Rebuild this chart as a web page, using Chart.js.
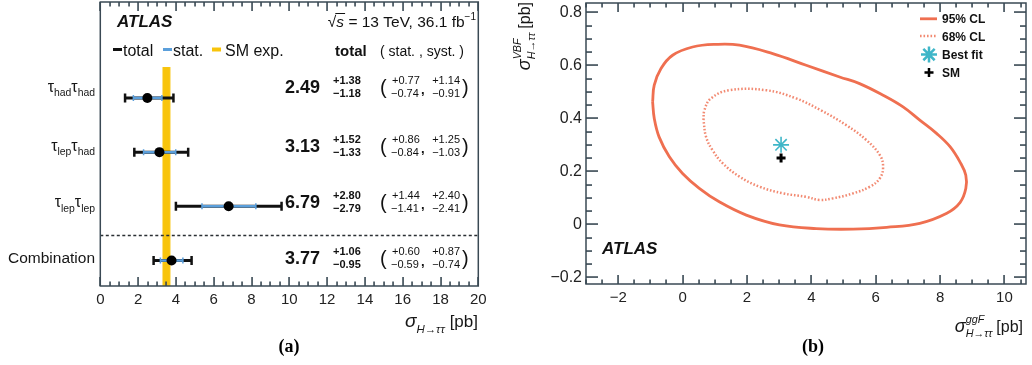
<!DOCTYPE html>
<html><head><meta charset="utf-8">
<script src="https://cdn.jsdelivr.net/npm/chart.js@4.4.1/dist/chart.umd.min.js"></script>
<style>
html,body{margin:0;padding:0;background:#fff;}
body{width:1032px;height:365px;position:relative;overflow:hidden}
.w{position:absolute;top:0;height:365px}
#wa{left:0;width:500px}
#wb{left:500px;width:532px}
</style></head><body>
<div class="w" id="wa"><canvas id="ca"></canvas></div>
<div class="w" id="wb"><canvas id="cb"></canvas></div>
<script>
// ---------- panel (a) data ----------
const channels = ['τ_{had}τ_{had}', 'τ_{lep}τ_{had}', 'τ_{lep}τ_{lep}', 'Combination'];
const xsec   = [2.49, 3.13, 6.79, 3.77];
const totUp  = [1.38, 1.52, 2.80, 1.06];
const totDn  = [1.18, 1.33, 2.79, 0.95];
const statUp = [0.77, 0.86, 1.44, 0.60];
const statDn = [0.74, 0.84, 1.41, 0.59];
const systUp = [1.14, 1.25, 2.40, 0.87];
const systDn = [0.91, 1.03, 2.41, 0.74];
const smXsec = 3.50;
const smErr  = 0.18;
const xTicksA = [0, 2, 4, 6, 8, 10, 12, 14, 16, 18, 20];

// ---------- panel (b) data ----------
const cl95X = [-0.93, -0.88, -0.67, -0.31, 0.31, 1.04, 1.77, 2.80, 3.84, 4.88, 5.50, 6.23, 6.85, 7.37, 7.89, 8.31, 8.62, 8.80, 8.80, 8.62, 8.21, 7.37, 6.34, 5.30, 4.15, 3.01, 1.98, 1.14, 0.52, 0.00, -0.41, -0.73, -0.88];
const cl95Y = [0.462, 0.525, 0.588, 0.638, 0.669, 0.679, 0.676, 0.644, 0.600, 0.556, 0.531, 0.487, 0.443, 0.393, 0.343, 0.293, 0.235, 0.185, 0.135, 0.082, 0.042, 0.004, -0.011, -0.018, -0.016, -0.002, 0.035, 0.085, 0.136, 0.192, 0.255, 0.330, 0.400];
const cl68X = [0.65, 0.68, 0.88, 1.45, 2.60, 3.53, 4.30, 5.09, 5.71, 6.13, 6.23, 6.13, 5.82, 5.30, 4.67, 4.26, 3.84, 3.12, 2.39, 1.77, 1.25, 0.93, 0.73];
const cl68Y = [0.393, 0.431, 0.475, 0.506, 0.506, 0.475, 0.430, 0.374, 0.318, 0.261, 0.217, 0.174, 0.142, 0.117, 0.098, 0.092, 0.104, 0.117, 0.142, 0.180, 0.230, 0.280, 0.330];
const bestFit = [3.06, 0.30];
const smPoint = [3.06, 0.25];
const legendB = ['95% CL', '68% CL', 'Best fit', 'SM'];
const xTicksB = [-2, 0, 2, 4, 6, 8, 10];
const yTicksB = [-0.2, 0, 0.2, 0.4, 0.6, 0.8];

// ---------- helpers ----------
const FAM = '"Liberation Sans", Arial, sans-serif';
const FRAME_COL = '#3a4954';
const C95 = '#ef6f50', C68 = '#f28a72', CFIT = '#3fb6c8', CSTAT = '#5b9fdb', CSM = '#f8c40c';
const fmt = v => (v < 0 ? '\u2212' : '') + String(Math.abs(v));

function richParse(s) {
  const out = []; let i = 0, buf = '';
  while (i < s.length) {
    const c = s[i];
    if ((c === '_' || c === '^') && s[i + 1] === '{') {
      if (buf) { out.push({ t: buf, k: 'n' }); buf = ''; }
      const j = s.indexOf('}', i);
      out.push({ t: s.slice(i + 2, j), k: c === '_' ? 'sub' : 'sup' });
      i = j + 1;
    } else { buf += c; i++; }
  }
  if (buf) out.push({ t: buf, k: 'n' });
  return out;
}
function drawRich(ctx, s, x, y, o) {
  const segs = richParse(s);
  const scl = o.scriptScale || 0.65;
  const fontFor = k => `${o.style || 'normal'} ${o.weight || 'normal'} ${k === 'n' ? o.size : o.size * scl}px ${FAM}`;
  let w = 0; const items = []; let prev = null;
  segs.forEach(sg => {
    ctx.font = fontFor(sg.k);
    const mw = ctx.measureText(sg.t).width;
    let dy = 0;
    if (sg.k === 'sub') dy = o.size * (o.subDy || 0.3);
    if (sg.k === 'sup') dy = -o.size * (o.supDy || 0.42);
    if (sg.k !== 'n' && prev && prev.k !== sg.k) {
      items.push({ ...sg, x: prev.x, dy });
      w += Math.max(0, mw - prev.w); prev = null;
    } else {
      const it = { ...sg, x: w, dy, w: mw };
      items.push(it);
      prev = sg.k !== 'n' ? it : null;
      w += mw;
    }
  });
  const x0 = o.align === 'right' ? x - w : o.align === 'center' ? x - w / 2 : x;
  ctx.fillStyle = o.color || '#161616'; ctx.textBaseline = 'alphabetic'; ctx.textAlign = 'left';
  items.forEach(it => { ctx.font = fontFor(it.k); ctx.fillText(it.t, x0 + it.x, y + it.dy); });
  return w;
}
// list of [value, isMajor] for tick marks: majors plus evenly spaced minors between/around them
function tickList(majors, nSub, lo, hi) {
  const step = (majors[1] - majors[0]) / nSub;
  const out = [];
  const first = majors[0] - Math.floor((majors[0] - lo) / step + 1e-6) * step;
  for (let k = 0; ; k++) {
    const v = first + k * step;
    if (v > hi + 1e-6) break;
    const isMaj = majors.some(m => Math.abs(m - v) < 1e-6);
    out.push([v, isMaj]);
  }
  return out;
}
function drawFrameTicks(ctx, a, sx, sy, xMajors, xSub, yMajors, ySub, lx, ly) {
  ctx.save();
  ctx.globalAlpha = 1; ctx.globalCompositeOperation = 'source-over'; ctx.setLineDash([]);
  ctx.strokeStyle = FRAME_COL; ctx.lineWidth = 1.5;
  ctx.strokeRect(a.left, a.top, a.right - a.left, a.bottom - a.top);
  ctx.fillStyle = FRAME_COL;
  const xmin = sx.options.min, xmax = sx.options.max;
  tickList(xMajors, xSub, xmin, xmax).forEach(([v, maj]) => {
    const px = Math.round(sx.getPixelForValue(v));
    if (!isFinite(px)) return;
    const L = maj ? lx[0] : lx[1];
    ctx.fillRect(px - 0.75, a.bottom - L, 1.6, L);
    ctx.fillRect(px - 0.75, a.top, 1.6, L);
  });
  if (yMajors) {
    const ymin = sy.options.min, ymax = sy.options.max;
    tickList(yMajors, ySub, ymin, ymax).forEach(([v, maj]) => {
      const py = Math.round(sy.getPixelForValue(v));
      if (!isFinite(py)) return;
      const L = maj ? ly[0] : ly[1];
      ctx.fillRect(a.left, py - 0.75, L, 1.6);
      ctx.fillRect(a.right - L, py - 0.75, L, 1.6);
    });
  }
  ctx.restore();
}
function zeroPad(s) { s.paddingTop = 0; s.paddingBottom = 0; s.paddingLeft = 0; s.paddingRight = 0; }

Chart.defaults.font.family = FAM;

// ---------- panel (a) ----------
const rowPos = [4, 3, 2, 1];
const panelA = {
  id: 'panelA',
  beforeDatasetsDraw(chart) {
    const { ctx, chartArea: a, scales: { x, y } } = chart;
    ctx.save();
    const bx0 = x.getPixelForValue(smXsec - smErr), bx1 = x.getPixelForValue(smXsec + smErr);
    const bTop = y.getPixelForValue(4.57);
    ctx.fillStyle = '#fbd75a';
    ctx.fillRect(bx0 - 0.8, bTop, bx1 - bx0 + 1.6, a.bottom - bTop);
    ctx.fillStyle = CSM;
    ctx.fillRect(bx0, bTop, bx1 - bx0, a.bottom - bTop);
    const sy = Math.round(y.getPixelForValue(1.47)) + 0.5;
    ctx.strokeStyle = '#2a2f33'; ctx.lineWidth = 1.5; ctx.setLineDash([3, 2.5]);
    ctx.beginPath(); ctx.moveTo(a.left, sy); ctx.lineTo(a.right, sy); ctx.stroke();
    ctx.setLineDash([]);
    xsec.forEach((v, i) => {
      const py = y.getPixelForValue(rowPos[i]);
      const tl = x.getPixelForValue(v - totDn[i]), tr = x.getPixelForValue(v + totUp[i]);
      const sl = x.getPixelForValue(v - statDn[i]), sr = x.getPixelForValue(v + statUp[i]);
      ctx.strokeStyle = '#111'; ctx.lineWidth = 3;
      ctx.beginPath(); ctx.moveTo(tl, py); ctx.lineTo(tr, py); ctx.stroke();
      ctx.lineWidth = 2.5;
      ctx.beginPath(); ctx.moveTo(tl, py - 4.5); ctx.lineTo(tl, py + 4.5);
      ctx.moveTo(tr, py - 4.5); ctx.lineTo(tr, py + 4.5); ctx.stroke();
      ctx.strokeStyle = CSTAT; ctx.lineWidth = 2.5;
      ctx.beginPath(); ctx.moveTo(sl, py); ctx.lineTo(sr, py); ctx.stroke();
      ctx.lineWidth = 1.5;
      ctx.beginPath(); ctx.moveTo(sl, py - 3); ctx.lineTo(sl, py + 3);
      ctx.moveTo(sr, py - 3); ctx.lineTo(sr, py + 3); ctx.stroke();
    });
    ctx.restore();
  },
  afterDraw(chart) {
    const { ctx, chartArea: a, scales: { x, y } } = chart;
    drawFrameTicks(ctx, a, x, y, xTicksA, 4, null, 0, [9, 4.5], null);
    ctx.save();
    ctx.fillStyle = '#111'; ctx.textBaseline = 'alphabetic'; ctx.textAlign = 'left';
    ctx.font = `italic bold 17px ${FAM}`; ctx.fillText('ATLAS', 117, 26.5);
    ctx.font = `15.5px ${FAM}`; const wR = ctx.measureText('\u221A').width;
    ctx.font = `italic 15.5px ${FAM}`; const wS = ctx.measureText('s').width;
    ctx.font = `15.5px ${FAM}`; const wM = ctx.measureText(' = 13 TeV, 36.1 fb').width;
    ctx.font = `10px ${FAM}`; const wE = ctx.measureText('\u22121').width;
    let xx = 476 - (wR + wS + wM + wE);
    ctx.font = `15.5px ${FAM}`; ctx.fillText('\u221A', xx, 26.5); xx += wR;
    ctx.font = `italic 15.5px ${FAM}`; ctx.fillText('s', xx, 26.5);
    ctx.strokeStyle = '#111'; ctx.lineWidth = 1;
    ctx.beginPath(); ctx.moveTo(xx - 1, 13.5); ctx.lineTo(xx + wS + 1, 13.5); ctx.stroke();
    xx += wS;
    ctx.font = `15.5px ${FAM}`; ctx.fillText(' = 13 TeV, 36.1 fb', xx, 26.5); xx += wM;
    ctx.font = `10px ${FAM}`; ctx.fillText('\u22121', xx, 19.5);
    const ly = 49.5;
    [[113, '#111', 3, 'total', 123], [163, CSTAT, 3, 'stat.', 173], [212, CSM, 4, 'SM exp.', 225]].forEach(([lx, col, lw, txt, tx]) => {
      ctx.strokeStyle = col; ctx.lineWidth = lw;
      ctx.beginPath(); ctx.moveTo(lx, ly); ctx.lineTo(lx + 9, ly); ctx.stroke();
      ctx.fillStyle = '#111'; ctx.font = `16px ${FAM}`; ctx.fillText(txt, tx, 55.5);
    });
    ctx.font = `bold 15px ${FAM}`; ctx.fillText('total', 335, 55.5);
    ctx.font = `14px ${FAM}`; ctx.fillText('( stat. , syst. )', 380, 55.5);
    const tRows = [4.22, 3.13, 2.09, 1.05];
    channels.forEach((lab, i) => {
      const cy = y.getPixelForValue(tRows[i]);
      drawRich(ctx, lab, 95, cy + 5.5, { size: i === 3 ? 15.5 : 16, align: 'right', color: '#161616' });
      ctx.fillStyle = '#111'; ctx.textAlign = 'right';
      ctx.font = `bold 18px ${FAM}`; ctx.fillText(xsec[i].toFixed(2), 320, cy + 6.5);
      ctx.textAlign = 'left'; ctx.font = `bold 11px ${FAM}`;
      ctx.fillText('+' + totUp[i].toFixed(2), 333, cy - 2.5);
      ctx.fillText('\u2212' + totDn[i].toFixed(2), 333, cy + 10.5);
      ctx.font = `20px ${FAM}`;
      ctx.fillText('(', 380, cy + 7.5); ctx.fillText(')', 462, cy + 7.5);
      ctx.font = `11px ${FAM}`;
      ctx.fillText('+' + statUp[i].toFixed(2), 392, cy - 2.5);
      ctx.fillText('\u2212' + statDn[i].toFixed(2), 391, cy + 10.5);
      ctx.font = `bold 13px ${FAM}`; ctx.fillText(',', 421, cy + 8);
      ctx.textAlign = 'right'; ctx.font = `11px ${FAM}`;
      ctx.fillText('+' + systUp[i].toFixed(2), 460, cy - 2.5);
      ctx.fillText('\u2212' + systDn[i].toFixed(2), 460, cy + 10.5);
    });
    ctx.textAlign = 'right'; ctx.fillStyle = '#161616';
    ctx.font = `17px ${FAM}`; const wpb = ctx.measureText('[pb]').width;
    ctx.fillText('[pb]', 478, 327);
    drawRich(ctx, 'σ_{H→ττ}', 478 - wpb - 5, 327, { size: 19, style: 'italic', align: 'right', scriptScale: 0.6 });
    ctx.textAlign = 'center'; ctx.fillStyle = '#000';
    ctx.font = `bold 18px "Liberation Serif", "Times New Roman", serif`;
    ctx.fillText('(a)', 289, 352);
    ctx.restore();
  }
};

new Chart(document.getElementById('ca'), {
  type: 'scatter',
  data: { datasets: [{ data: xsec.map((v, i) => ({ x: v, y: rowPos[i] })), pointRadius: 5, pointHoverRadius: 5, backgroundColor: '#000', borderColor: '#000', borderWidth: 0 }] },
  options: {
    responsive: true, maintainAspectRatio: false, animation: false,
    layout: { autoPadding: false, padding: { left: 100.3, right: 21.7, top: 2, bottom: 0 } },
    plugins: { legend: { display: false }, tooltip: { enabled: false } },
    scales: {
      x: {
        type: 'linear', min: 0, max: 20,
        afterBuildTicks: s => { s.ticks = xTicksA.map(v => ({ value: v })); },
        afterFit: s => { s.height = 79; zeroPad(s); },
        grid: { display: false, drawTicks: false }, border: { display: false },
        ticks: { padding: 5, color: '#222', font: { size: 15 }, maxRotation: 0, autoSkip: false, callback: v => fmt(v) }
      },
      y: { type: 'linear', min: 0.53, max: 5.77, display: false }
    }
  },
  plugins: [panelA]
});

// ---------- panel (b) ----------
const closedPts = (X, Y) => X.map((v, i) => ({ x: v, y: Y[i] })).concat([{ x: X[0], y: Y[0] }]);
const panelB = {
  id: 'panelB',
  afterDraw(chart) {
    const { ctx, chartArea: a, scales: { x, y } } = chart;
    drawFrameTicks(ctx, a, x, y, xTicksB, 4, yTicksB, 4, [9, 4.5], [12, 6]);
    ctx.save();
    const lx0 = 420, lx1 = 437, tx = 442;
    const ys = [18.8, 36, 54.6, 72.4];
    const ds = chart.data.datasets;
    legendB.forEach((lab, i) => {
      const ly = ys[i];
      if (i < 2) {
        ctx.strokeStyle = ds[i].borderColor; ctx.lineWidth = ds[i].borderWidth;
        ctx.setLineDash(ds[i].borderDash || []);
        ctx.beginPath(); ctx.moveTo(lx0, ly); ctx.lineTo(lx1, ly); ctx.stroke();
        ctx.setLineDash([]);
      } else {
        ctx.strokeStyle = ds[i].borderColor;
        Chart.helpers.drawPoint(ctx, { pointStyle: ds[i].pointStyle, radius: ds[i].pointRadius, borderWidth: ds[i].borderWidth, rotation: 0 }, 429, ly);
      }
      ctx.fillStyle = '#111'; ctx.textAlign = 'left'; ctx.textBaseline = 'alphabetic';
      ctx.font = `bold 12px ${FAM}`; ctx.fillText(lab, tx, ly + 4.5);
    });
    ctx.font = `italic bold 17px ${FAM}`; ctx.fillText('ATLAS', 102, 254);
    ctx.textAlign = 'right'; ctx.fillStyle = '#161616';
    ctx.font = `16px ${FAM}`; const wpb = ctx.measureText('[pb]').width;
    ctx.fillText('[pb]', 523, 332);
    drawRich(ctx, 'σ^{ggF}_{H→ττ}', 523 - wpb - 4, 332, { size: 18, style: 'italic', align: 'right', scriptScale: 0.6, supDy: 0.5 });
    ctx.save();
    ctx.translate(30, 2); ctx.rotate(-Math.PI / 2);
    ctx.textAlign = 'right'; ctx.font = `16px ${FAM}`;
    ctx.fillText('[pb]', 0, 0);
    drawRich(ctx, 'σ^{VBF}_{H→ττ}', -wpb - 4, 0, { size: 18, style: 'italic', align: 'right', scriptScale: 0.6, supDy: 0.5 });
    ctx.restore();
    ctx.textAlign = 'center'; ctx.fillStyle = '#000';
    ctx.font = `bold 18px "Liberation Serif", "Times New Roman", serif`;
    ctx.fillText('(b)', 313, 352);
    ctx.restore();
  }
};

new Chart(document.getElementById('cb'), {
  type: 'scatter',
  data: {
    datasets: [
      { label: legendB[0], data: closedPts(cl95X, cl95Y), showLine: true, borderColor: C95, borderWidth: 2.8, pointRadius: 0, tension: 0.4, fill: false },
      { label: legendB[1], data: closedPts(cl68X, cl68Y), showLine: true, borderColor: C68, borderWidth: 2.5, borderDash: [1.6, 1.9], pointRadius: 0, tension: 0.4, fill: false },
      { label: legendB[2], data: [{ x: bestFit[0], y: bestFit[1] }], pointStyle: 'star', pointRadius: 8, borderColor: CFIT, backgroundColor: CFIT, borderWidth: 1.6 },
      { label: legendB[3], data: [{ x: smPoint[0], y: smPoint[1] }], pointStyle: 'cross', pointRadius: 4.5, borderColor: '#000', backgroundColor: '#000', borderWidth: 3 }
    ]
  },
  options: {
    responsive: true, maintainAspectRatio: false, animation: false,
    layout: { autoPadding: false, padding: { left: 0, right: 6, top: 3, bottom: 0 } },
    plugins: { legend: { display: false }, tooltip: { enabled: false } },
    scales: {
      x: {
        type: 'linear', min: -3, max: 10.67,
        afterBuildTicks: s => { s.ticks = xTicksB.map(v => ({ value: v })); },
        afterFit: s => { s.height = 81; zeroPad(s); },
        grid: { display: false, drawTicks: false }, border: { display: false },
        ticks: { padding: 5, color: '#222', font: { size: 15 }, maxRotation: 0, autoSkip: false, callback: v => fmt(v) }
      },
      y: {
        type: 'linear', min: -0.225, max: 0.835,
        afterBuildTicks: s => { s.ticks = yTicksB.map(v => ({ value: v })); },
        afterFit: s => { s.width = 86; zeroPad(s); },
        grid: { display: false, drawTicks: false }, border: { display: false },
        ticks: { padding: 4, color: '#222', font: { size: 16 }, autoSkip: false, callback: v => fmt(v) }
      }
    }
  },
  plugins: [panelB]
});
</script>
</body></html>
